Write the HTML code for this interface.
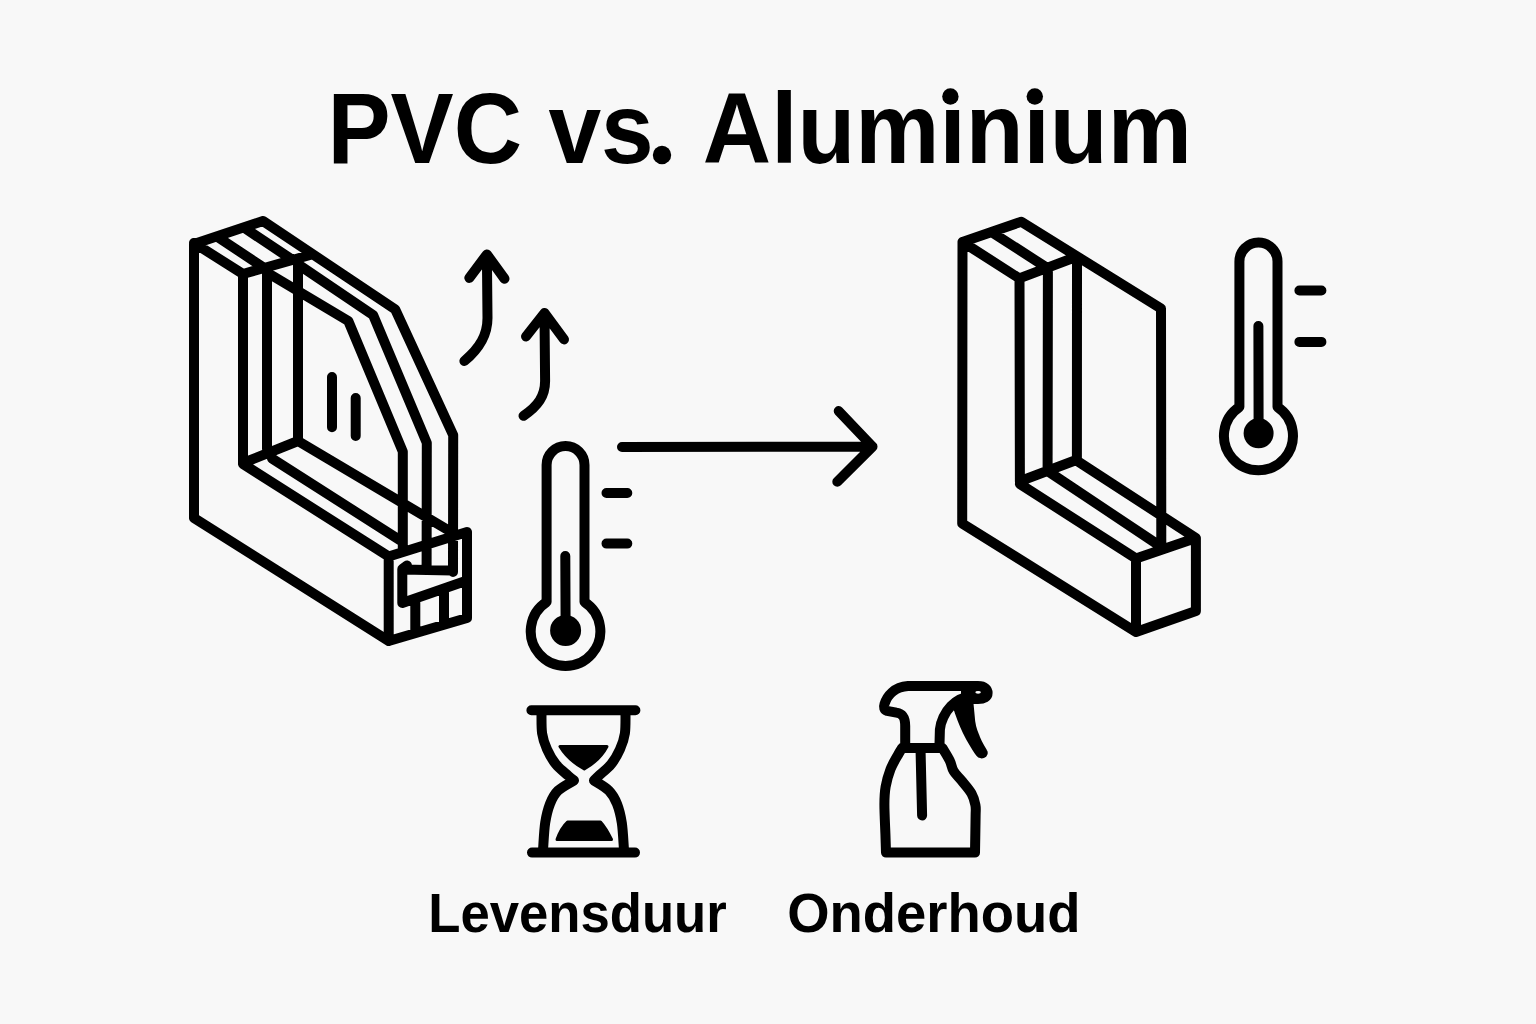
<!DOCTYPE html>
<html><head><meta charset="utf-8"><style>
html,body{margin:0;padding:0;background:#f8f8f8;width:1536px;height:1024px;overflow:hidden}
svg{position:absolute;left:0;top:0}
.t{font-family:"Liberation Sans",sans-serif;font-weight:bold;fill:#000}
</style></head><body>
<svg width="1536" height="1024" viewBox="0 0 1536 1024">
<g fill="none" stroke="#000" stroke-width="10" stroke-linecap="round" stroke-linejoin="round">
<!-- LEFT WINDOW -->
<path id="lw" d="M194,244 L263,221 M194,243 L243,274 M217.4,236.8 L264.6,268.2 M244,227.7 L292.6,260 M243,274 L310,255
M263,221 L395.2,309.3 L453.2,435.2 L453,572
M299,265 L373.2,315.2 L426.8,442.9 L426.6,566
M272,275.5 L348.3,321 L402.8,451.6 L402.8,548
M194,244 L194,518 M243,275 L243,463 M267,268 L267,449 M298,259 L298,440
M243,463 L298,441
M194,518 L388.7,641
M243,464 L388.7,556.5
M272,458.5 L402.8,542
M298,441 L453,533
M388.7,556.5 L467,532 L467,618 L388.7,641 Z
M407,565.5 L402.3,569 L402.3,603 L467,580.5 M402.3,569.5 L452,570.5
M415.3,602 L415.3,631 M444,592 L444,622
M332,377 L332,427.3 M355.7,398 L355.7,436"/>
<!-- ARROWS UP -->
<path d="M469.3,277.9 L486.9,254.4 L504.5,278.8 M486.9,256 L487.5,318 C487.5,335 480,348 464.4,361"/>
<path d="M526,336.5 L544.5,313 L564,339.4 M544.5,315 L545.1,381 C545.1,396 538,406 523.5,415.8"/>
<!-- THERMO 1 -->
<path d="M546.6,602 L546.6,465 A18.95,18.95 0 0 1 584.5,465 L584.5,602 A34.8,34.8 0 1 1 546.6,602 Z"/>
<path d="M565.3,556 L565.6,625"/>
<path d="M606.5,493 L627.3,493 M606.5,543.6 L627.3,543.6"/>
<!-- LONG ARROW -->
<path d="M622,447 L872.5,446.6 M838.7,411.1 L872.5,446.6 L837.3,481.8"/>
<!-- RIGHT WINDOW -->
<path d="M962.5,242 L1021.3,221.7 L1161,308.6 L1161.3,542.8 M962.5,242 L962.2,523.4 M962.5,242 L1019.3,278.4
M991.5,232 L1047.3,268 M1019.3,278.4 L1077,256.5
M1019.5,278 L1019.9,481.3 M1047.9,268 L1047.6,470 M1077,259 L1076.9,459
M1019.9,481.3 L1076.9,459.7
M962.2,523.4 L1136,632
M1019.9,484 L1136,558.5
M1047.6,471 L1160,546
M1076.9,460.8 L1195,537.5
M1136,558.5 L1195.9,538 L1195.9,611 L1136,632 Z"/>
<!-- THERMO 2 -->
<path d="M1239.4,407 L1239.4,261.6 A19.05,19.05 0 0 1 1277.5,261.6 L1277.5,407 A34.5,34.5 0 1 1 1239.4,407 Z"/>
<path d="M1258.4,326 L1258.6,425"/>
<path d="M1299.4,290.5 L1321.4,290.5 M1299.4,341.9 L1321.4,341.9"/>
<!-- HOURGLASS -->
<path d="M531.4,710.2 L635.4,710.2 M532,852.6 L635,852.6"/>
<path d="M541.5,712.0 C541.6,715.6 541.2,727.2 542.1,733.4 C543.0,739.6 544.7,744.1 547.0,749.2 C549.3,754.3 552.3,759.8 555.8,764.2 C559.3,768.6 565.1,772.9 568.1,775.6 C571.1,778.3 573.0,779.7 574.0,780.5 L574.0,780.5 C571.3,782.2 562.0,786.8 558.0,790.7 C554.0,794.6 552.1,798.5 550.0,803.8 C547.9,809.1 546.4,815.0 545.2,822.7 C544.0,830.4 543.4,845.5 543.0,850.0"/>
<path d="M625.5,712.0 C625.4,715.6 625.8,727.2 624.9,733.4 C624.0,739.6 622.3,744.1 620.0,749.2 C617.7,754.3 614.7,759.8 611.2,764.2 C607.7,768.6 601.8,772.9 598.9,775.6 C596.0,778.3 594.8,779.7 594.0,780.5 L594.0,780.5 C596.5,782.2 605.2,786.8 609.0,790.7 C612.8,794.6 614.9,798.5 617.0,803.8 C619.1,809.1 620.6,815.0 621.8,822.7 C623.0,830.4 623.6,845.5 624.0,850.0"/>
<!-- SPRAY -->
<path d="M902.0,748.1 C901.4,749.1 900.4,750.5 898.5,754.0 C896.6,757.5 892.6,763.8 890.5,769.3 C888.4,774.8 886.6,781.0 885.6,786.9 C884.6,792.8 884.4,796.7 884.4,804.5 C884.4,812.3 885.1,825.8 885.4,833.8 C885.7,841.8 885.9,849.5 886.0,852.6 L975,852.6 L975.0,852.6 C975.1,846.5 975.5,824.1 975.6,816.2 C975.7,808.3 976.1,808.8 975.4,805.0 C974.7,801.2 973.8,797.6 971.5,793.5 C969.2,789.4 964.4,784.1 961.4,780.4 C958.4,776.7 955.5,774.4 953.6,771.1 C951.7,767.8 951.6,764.3 949.7,760.5 C947.9,756.7 943.7,750.2 942.5,748.1 Z"/>
<path d="M920.5,748 L922.1,815.5"/>
<path d="M905.2,748 L905.2,726 C905.2,716 902,713.5 896.4,712.6 L887,710.8 C884,710 883.5,707 884.5,704 C887,696 894,687 908,686 L978,686 C985,686 987.6,689.5 987.6,693 C987.6,697 984,699 978,699 L968,699"/>
<path d="M939.4,748 L939.9,729.5 C940.5,722 945,712 951,706 C957,700 963,697 972,696"/>
</g>
<g fill="#000" stroke="#000" stroke-width="3" stroke-linejoin="round">
<circle cx="565.6" cy="630.5" r="14"/>
<circle cx="1258.6" cy="433.3" r="13.5"/>
<path d="M560,746.5 L607,746.5 Q600,760 584.3,769 Q568,760 560,746.5 Z"/>
<path d="M557,839.5 L611.5,839.5 Q606,828 600.5,822 L567.5,822 Q561,828 557,839.5 Z"/>
<path d="M954.8,710 C957,716 960,726 966.7,738.3 C970,744 974,751 977,755 C979,758 983,758 985.5,756 C987,754 987,752 986,750.6 C982,744 979,738 978.1,734.8 C975,728 974,722 973.7,716 L972,698 L958,698 Z" stroke-width="2"/>
<path d="M962,686 L985,686 L985,699 L962,699 Z" stroke-width="2"/>
</g>
<ellipse cx="978.1" cy="692.3" rx="2.8" ry="1.4" fill="#f8f8f8"/>
<text class="t" x="759.5" y="163" font-size="101" text-anchor="middle" transform="translate(759.65,0) scale(0.9373,1) translate(-759.5,0)">PVC vs. Aluminium</text>
<rect x="944" y="88" width="17" height="13" fill="#f8f8f8"/>
<rect x="1028" y="88" width="17" height="13" fill="#f8f8f8"/>
<rect x="658" y="146" width="18" height="18" fill="#f8f8f8"/>
<circle cx="662" cy="155" r="9.2" fill="#000"/>
<circle cx="950.4" cy="96.5" r="8.2" fill="#000"/>
<circle cx="1034.8" cy="96.5" r="8.2" fill="#000"/>
<text class="t" x="578.5" y="932" font-size="55" text-anchor="middle" transform="translate(577.5,0) scale(0.958,1) translate(-578.5,0)">Levensduur</text>
<text class="t" x="932.5" y="932" font-size="55" text-anchor="middle" transform="translate(933.85,0) scale(0.99,1) translate(-932.5,0)">Onderhoud</text>
</svg>
</body></html>
